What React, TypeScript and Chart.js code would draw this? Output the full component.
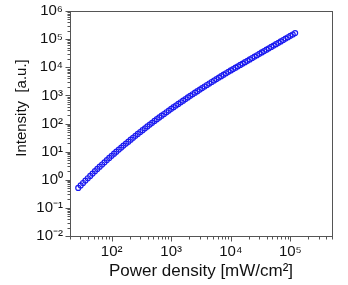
import { useEffect, useRef } from 'react';
import { Chart, registerables } from 'chart.js';

Chart.register(...registerables);

const powerDensity = [
  27.5, 30.2, 33.1, 36.3, 39.8, 43.7, 47.9, 52.5, 57.5, 63.1, 69.2, 75.9, 83.2, 91.2,
  100, 110, 120, 132, 145, 158, 174, 191, 209, 229, 251, 275, 302, 331, 363, 398, 437, 479, 525, 575, 631, 692, 759, 832, 912,
  1000, 1096, 1202, 1318, 1445, 1585, 1738, 1905, 2089, 2291, 2512, 2754, 3020, 3311, 3631, 3981, 4365, 4786, 5248, 5754, 6310, 6918, 7586, 8318, 9120,
  10000, 10960, 12020, 13180, 14450, 15850, 17380, 19050, 20890, 22910, 25120, 27540, 30200, 33110, 36310, 39810, 43650, 47860, 52480, 57540, 63100, 69180, 75860, 83180, 91200,
  100000, 109600, 120200,
];

const intensity = [
  0.513, 0.627, 0.766, 0.931, 1.13, 1.37, 1.66, 2.01, 2.42, 2.91, 3.49, 4.18, 5.0, 5.97,
  7.11, 8.43, 9.98, 11.8, 13.9, 16.4, 19.3, 22.6, 26.6, 31.2, 36.5, 42.7, 49.8, 58.1, 67.6, 78.7, 91.4, 106, 123, 142, 164, 189, 218, 251, 289,
  332, 380, 436, 498, 569, 650, 741, 845, 964, 1096, 1247, 1416, 1607, 1824, 2065, 2339, 2642, 2985, 3373, 3802, 4285, 4831, 5433, 6109, 6855,
  7691, 8610, 9638, 10810, 12110, 13550, 15170, 16980, 19050, 21330, 23880, 26730, 29920, 33570, 37580, 42070, 47100, 52720, 59160, 66220, 74130, 82990, 92900,
  104200, 116700, 130600, 146200, 163700,
];

const xMajorTicks = [100, 1000, 10000, 100000];
const xMajorLabels = ['10²', '10³', '10⁴', '10⁵'];
const yMajorTicks = [1e-2, 1e-1, 1, 10, 100, 1000, 1e4, 1e5, 1e6];
const yMajorLabels = ['10⁻²', '10⁻¹', '10⁰', '10¹', '10²', '10³', '10⁴', '10⁵', '10⁶'];

const X_MIN = 20;
const X_MAX = 500000;
const Y_MIN = 1e-2;
const Y_MAX = 1e6;

const xTitle = 'Power density [mW/cm²]';
const yTitle = 'Intensity  [a.u.]';

const FONT = '"Liberation Sans", Arial, Helvetica, sans-serif';
const AXIS_COLOR = '#555555';

function logTicks(min: number, max: number) {
  const out: { value: number }[] = [];
  let dec = Math.pow(10, Math.floor(Math.log10(min)));
  while (dec <= max) {
    for (let m = 1; m <= 9; m++) {
      const v = +(m * dec).toPrecision(6);
      if (v >= min * 0.9999 && v <= max * 1.0001) out.push({ value: v });
    }
    dec *= 10;
  }
  return out;
}

function isMajor(v: number, majors: number[]) {
  return majors.some((m) => Math.abs(v - m) / m < 1e-6);
}

const frameAndTicks = {
  id: 'frameAndTicks',
  afterDraw(chart: any) {
    const { ctx, chartArea } = chart;
    const { left, right, top, bottom } = chartArea;
    ctx.save();
    ctx.strokeStyle = AXIS_COLOR;
    ctx.lineWidth = 1;
    ctx.strokeRect(Math.round(left) + 0.5, Math.round(top) + 0.5, Math.round(right - left), Math.round(bottom - top));
    const xs = chart.scales.x;
    const ys = chart.scales.y;
    ctx.beginPath();
    xs.ticks.forEach((t: any) => {
      const px = Math.round(xs.getPixelForValue(t.value)) + 0.5;
      const len = isMajor(t.value, xMajorTicks) ? 5 : 3;
      ctx.moveTo(px, Math.round(bottom) + 0.5);
      ctx.lineTo(px, Math.round(bottom) + 0.5 + len);
    });
    ys.ticks.forEach((t: any) => {
      const py = Math.round(ys.getPixelForValue(t.value)) + 0.5;
      const len = isMajor(t.value, yMajorTicks) ? 5 : 3;
      ctx.moveTo(Math.round(left) + 0.5, py);
      ctx.lineTo(Math.round(left) + 0.5 - len, py);
    });
    ctx.stroke();

    ctx.fillStyle = '#111111';
    ctx.font = `15px ${FONT}`;
    ctx.textAlign = 'center';
    ctx.textBaseline = 'middle';
    ctx.translate(22, 108);
    ctx.rotate(-Math.PI / 2);
    ctx.fillText(yTitle, 0, 0);
    ctx.restore();
  },
};

export default function App() {
  const ref = useRef<HTMLCanvasElement | null>(null);

  useEffect(() => {
    if (!ref.current) return;
    const data = powerDensity.map((x, i) => ({ x, y: intensity[i] }));
    const chart = new Chart(ref.current, {
      type: 'scatter',
      data: {
        datasets: [
          {
            data,
            pointStyle: 'circle',
            pointRadius: 2.5,
            pointBorderWidth: 1.2,
            pointBorderColor: 'rgb(25,25,240)',
            pointBackgroundColor: 'rgba(0,0,0,0)',
            showLine: false,
          },
        ],
      },
      options: {
        responsive: false,
        animation: false,
        devicePixelRatio: 1,
        layout: { padding: { left: 0, top: 7, right: 16, bottom: 0 } },
        plugins: { legend: { display: false }, tooltip: { enabled: false } },
        scales: {
          x: {
            type: 'logarithmic',
            position: 'bottom',
            min: X_MIN,
            max: X_MAX,
            afterBuildTicks: (scale: any) => {
              scale.ticks = logTicks(X_MIN, X_MAX);
            },
            afterFit: (scale: any) => {
              scale.height = 49;
            },
            border: { display: false },
            grid: { display: true, drawOnChartArea: false, drawTicks: true, tickLength: 5, color: 'rgba(0,0,0,0)' },
            ticks: {
              autoSkip: false,
              maxRotation: 0,
              padding: 2,
              color: '#111111',
              font: { family: FONT, size: 15 },
              callback: (v: any) => {
                const i = xMajorTicks.findIndex((m) => Math.abs(Number(v) - m) / m < 1e-6);
                return i >= 0 ? xMajorLabels[i] : '';
              },
            },
            title: {
              display: true,
              text: xTitle,
              color: '#111111',
              font: { family: FONT, size: 17 },
              padding: { top: 0, bottom: 3 },
            },
          },
          y: {
            type: 'logarithmic',
            position: 'left',
            min: Y_MIN,
            max: Y_MAX,
            afterBuildTicks: (scale: any) => {
              scale.ticks = logTicks(Y_MIN, Y_MAX);
            },
            afterFit: (scale: any) => {
              scale.width = 70;
            },
            border: { display: false },
            grid: { display: true, drawOnChartArea: false, drawTicks: true, tickLength: 5, color: 'rgba(0,0,0,0)' },
            ticks: {
              autoSkip: false,
              padding: 2,
              color: '#111111',
              font: { family: FONT, size: 15 },
              callback: (v: any) => {
                const i = yMajorTicks.findIndex((m) => Math.abs(Number(v) - m) / m < 1e-6);
                return i >= 0 ? yMajorLabels[i] : '';
              },
            },
            title: { display: false },
          },
        },
      },
      plugins: [frameAndTicks],
    });
    return () => chart.destroy();
  }, []);

  return (
    <div style={{ position: 'fixed', left: 0, top: 0, width: 348, height: 285, background: '#ffffff' }}>
      <canvas ref={ref} width={348} height={285} style={{ display: 'block', width: 348, height: 285 }} />
    </div>
  );
}
